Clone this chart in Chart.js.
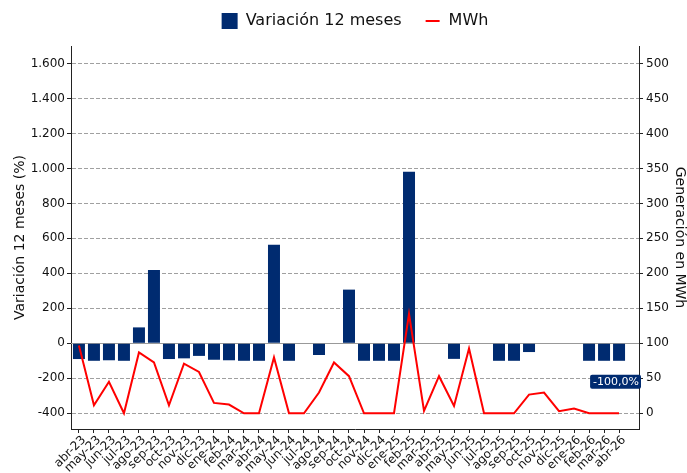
<!DOCTYPE html>
<html lang="es">
<head>
<meta charset="utf-8">
<title>Variación 12 meses y MWh</title>
<script src="https://cdn.jsdelivr.net/npm/chart.js@4.4.1/dist/chart.umd.min.js"></script>
<style>
  html, body { margin: 0; padding: 0; background: #fff; }
</style>
</head>
<body>
<canvas id="chart" width="687" height="473"></canvas>
<script>
const months = [
  "abr-23", "may-23", "jun-23", "jul-23", "ago-23", "sep-23", "oct-23", "nov-23", "dic-23",
  "ene-24", "feb-24", "mar-24", "abr-24", "may-24", "jun-24", "jul-24", "ago-24", "sep-24",
  "oct-24", "nov-24", "dic-24", "ene-25", "feb-25", "mar-25", "abr-25", "may-25", "jun-25",
  "jul-25", "ago-25", "sep-25", "oct-25", "nov-25", "dic-25", "ene-26", "feb-26", "mar-26", "abr-26"
];

// variación 12 meses (%) - null where there is no bar
const variation = [
  -90, -100, -97, -100, 91, 419, -90, -86, -72,
  -94, -97, -100, -100, 563, -100, null, -67, 0,
  307, -100, -100, -100, 981, null, null, -89, null,
  null, -100, -100, -50, null, null, null, -100, -100, -100
];

// generación (MWh)
const mwh = [
  97, 11.5, 45, 0, 87, 72.6, 11.5, 71, 59,
  14.8, 12.4, 0, 0, 79.8, 0, 0, 29.6, 72.6,
  53, 0, 0, 0, 142, 3.3, 53, 10.5, 92.6,
  0, 0, 0, 26.7, 29.6, 2.9, 6.7, 0, 0, 0
];

const leftTicks = [-400, -200, 0, 200, 400, 600, 800, 1000, 1200, 1400, 1600];
const rightTicks = [0, 50, 100, 150, 200, 250, 300, 350, 400, 450, 500];

const barColor = "#002B70";
const lineColor = "#FF0000";
const textColor = "#111";
const axisColor = "#222";
const FONT = "DejaVu Sans";

function fmtThousands(v) {
  return String(v).replace(/\B(?=(\d{3})+(?!\d))/g, ".");
}

// small red line used as legend icon
const lineIcon = document.createElement("canvas");
lineIcon.width = 16;
lineIcon.height = 16;
(function () {
  const c = lineIcon.getContext("2d");
  c.strokeStyle = lineColor;
  c.lineWidth = 2;
  c.beginPath();
  c.moveTo(1, 8);
  c.lineTo(15, 8);
  c.stroke();
})();

// solid reference line at 0 %
const zeroLine = {
  id: "zeroLine",
  beforeDatasetsDraw(chart) {
    const { ctx, chartArea, scales } = chart;
    const y = Math.round(scales.y.getPixelForValue(0)) + 0.5;
    ctx.save();
    ctx.strokeStyle = "#999";
    ctx.lineWidth = 1;
    ctx.beginPath();
    ctx.moveTo(chartArea.left, y);
    ctx.lineTo(chartArea.right, y);
    ctx.stroke();
    ctx.restore();
  }
};

// label with the last variation value
const lastLabel = {
  id: "lastLabel",
  afterDatasetsDraw(chart) {
    const { ctx, chartArea, scales } = chart;
    const v = variation[variation.length - 1];
    const text = v.toFixed(1).replace(".", ",") + "%";
    ctx.save();
    ctx.font = "11px '" + FONT + "'";
    const w = ctx.measureText(text).width + 5;
    const h = 14;
    const x = chartArea.right + 2 - w;
    const yc = scales.y.getPixelForValue(v) + 21;
    ctx.fillStyle = barColor;
    ctx.beginPath();
    ctx.roundRect(x, yc - h / 2, w, h, 2);
    ctx.fill();
    ctx.fillStyle = "#fff";
    ctx.textBaseline = "middle";
    ctx.fillText(text, x + 3, yc + 0.5);
    ctx.restore();
  }
};

// extra room between legend and plot
const legendGap = {
  id: "legendGap",
  beforeLayout(chart) {
    const lg = chart.legend;
    if (lg && !lg._gapPatched) {
      const fit = lg.fit;
      lg.fit = function () { fit.call(this); this.height += 7; };
      lg._gapPatched = true;
    }
  }
};

new Chart(document.getElementById("chart"), {
  type: "bar",
  data: {
    datasets: [
      {
        type: "bar",
        label: "Variación 12 meses",
        data: variation.map((v, i) => ({ x: i, y: v })),
        backgroundColor: barColor,
        borderWidth: 0,
        categoryPercentage: 1,
        barPercentage: 0.8,
        yAxisID: "y",
        order: 1
      },
      {
        type: "line",
        label: "MWh",
        data: mwh.map((v, i) => ({ x: i, y: v })),
        borderColor: lineColor,
        backgroundColor: lineColor,
        borderWidth: 2,
        pointRadius: 0,
        tension: 0,
        yAxisID: "y1",
        order: 0
      }
    ]
  },
  options: {
    responsive: false,
    animation: false,
    devicePixelRatio: 1,
    layout: { padding: { top: -10, left: 0, right: 0, bottom: 0 } },
    plugins: {
      tooltip: { enabled: false },
      legend: {
        position: "top",
        fullSize: false,
        labels: {
          usePointStyle: true,
          padding: 23,
          color: textColor,
          font: { family: FONT, size: 16 },
          generateLabels(chart) {
            const items = Chart.defaults.plugins.legend.labels.generateLabels(chart);
            items.forEach(it => {
              it.pointStyle = it.datasetIndex === 1 ? lineIcon : "rect";
            });
            return items.sort((a, b) => a.datasetIndex - b.datasetIndex);
          }
        }
      }
    },
    scales: {
      x: {
        type: "linear",
        offset: false,
        min: -0.53,
        max: 37.33,
        afterBuildTicks: s => { s.ticks = months.map((m, i) => ({ value: i })); },
        afterFit: s => { s.height = 44; },
        ticks: {
          autoSkip: false,
          minRotation: 45,
          maxRotation: 45,
          padding: 0,
          labelOffset: 5,
          color: textColor,
          font: { family: FONT, size: 12 },
          callback: v => months[v]
        },
        grid: { offset: false, drawOnChartArea: false, tickLength: 4, tickColor: axisColor },
        border: { display: true, color: axisColor }
      },
      y: {
        position: "left",
        min: -490,
        max: 1700,
        afterBuildTicks: s => { s.ticks = leftTicks.map(v => ({ value: v })); },
        afterFit: s => { s.width = 71; },
        ticks: {
          padding: 2,
          color: textColor,
          font: { family: FONT, size: 12 },
          callback: v => fmtThousands(v)
        },
        grid: { color: "#a0a0a0", lineWidth: 1, tickLength: 4, tickColor: axisColor, tickBorderDash: [] },
        border: { display: true, color: axisColor, dash: [4, 2] },
        title: {
          display: true,
          text: "Variación 12 meses (%)",
          color: textColor,
          font: { family: FONT, size: 14, lineHeight: 1 },
          padding: { top: 13, bottom: 0 }
        }
      },
      y1: {
        position: "right",
        min: -22.5,
        max: 525,
        afterBuildTicks: s => { s.ticks = rightTicks.map(v => ({ value: v })); },
        afterFit: s => { s.width = 48; },
        ticks: {
          padding: 3,
          color: textColor,
          font: { family: FONT, size: 12 }
        },
        grid: { drawOnChartArea: false, tickLength: 4, tickColor: axisColor },
        border: { display: true, color: axisColor },
        title: {
          display: true,
          text: "Generación en MWh",
          color: textColor,
          font: { family: FONT, size: 14, lineHeight: 1 },
          padding: { top: 0, bottom: 0 }
        }
      }
    }
  },
  plugins: [zeroLine, lastLabel, legendGap]
});
</script>
</body>
</html>
